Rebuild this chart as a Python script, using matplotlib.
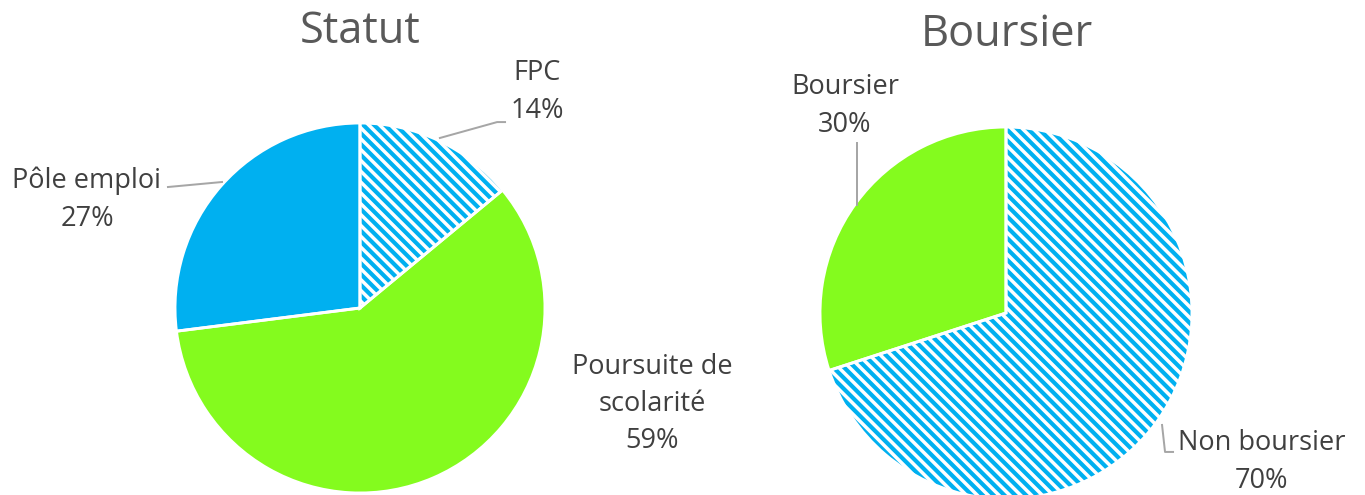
import matplotlib.pyplot as plt

plt.rcParams['font.family'] = ['Open Sans', 'DejaVu Sans']
plt.rcParams['hatch.linewidth'] = 2.3

# data
statut_labels = ['FPC', 'Poursuite de\nscolarité', 'Pôle emploi']
statut_values = [14, 59, 27]
boursier_labels = ['Non boursier', 'Boursier']
boursier_values = [70, 30]

blue = '#00B0F0'
green = '#84FB1E'
txt = '#404040'
grey = '#A6A6A6'

W, H, DPI = 1365, 495, 130
fig = plt.figure(figsize=(W / DPI, H / DPI), dpi=DPI)


def pie_axes(cx, cy, r):
    ax = fig.add_axes([(cx - r) / W, (H - cy - r) / H, 2 * r / W, 2 * r / H])
    return ax


def draw_pie(ax, values, colors, hatched):
    wedges, _ = ax.pie(values, colors=colors, startangle=90, counterclock=False,
                       radius=1, wedgeprops=dict(linewidth=0))
    for w, h in zip(wedges, hatched):
        if h:
            w.set_facecolor('white')
            w.set_edgecolor(blue)
            w.set_hatch('\\\\\\\\')
    # white separators on top
    ax.pie(values, colors=['none'] * len(values), startangle=90, counterclock=False,
           radius=1, wedgeprops=dict(linewidth=1.6, edgecolor='white', fill=False))
    ax.set_xlim(-1, 1)
    ax.set_ylim(-1, 1)
    ax.set_aspect('equal', adjustable='datalim')
    ax.axis('off')


fs = 15
ls = 1.45

# left pie
ax1 = pie_axes(360, 308, 185)
draw_pie(ax1, statut_values, [blue, green, blue], [True, False, False])
ax1.text(0.957, 1.168, f'{statut_labels[0]}\n{statut_values[0]}%', ha='center', va='center',
         fontsize=fs, color=txt, linespacing=ls)
ax1.plot([0.432, 0.741, 0.784], [0.919, 1.005, 1.005], color=grey, lw=1.1, clip_on=False)
ax1.text(1.578, -0.519, f'{statut_labels[1]}\n{statut_values[1]}%', ha='center', va='center',
         fontsize=fs, color=txt, linespacing=ls)
ax1.text(-1.476, 0.584, f'{statut_labels[2]}\n{statut_values[2]}%', ha='center', va='center',
         fontsize=fs, color=txt, linespacing=ls)
ax1.plot([-1.038, -0.746], [0.654, 0.681], color=grey, lw=1.1, clip_on=False)

# right pie
ax2 = pie_axes(1006, 313, 186)
draw_pie(ax2, boursier_values, [blue, green], [True, False])
ax2.text(1.376, -0.801, f'{boursier_labels[0]}\n{boursier_values[0]}%', ha='center', va='center',
         fontsize=fs, color=txt, linespacing=ls)
ax2.plot([0.839, 0.855, 0.898], [-0.602, -0.747, -0.747], color=grey, lw=1.1, clip_on=False)
ax2.text(-0.866, 1.113, f'{boursier_labels[1]}\n{boursier_values[1]}%', ha='center', va='center',
         fontsize=fs, color=txt, linespacing=ls)
ax2.plot([-0.801, -0.801], [0.914, 0.581], color=grey, lw=1.1, clip_on=False)

fig.text(360 / W, 1 - 32 / H, 'Statut', ha='center', va='center', fontsize=24, color='#595959')
fig.text(1007 / W, 1 - 35 / H, 'Boursier', ha='center', va='center', fontsize=24, color='#595959')

fig.savefig('out.png', dpi=DPI)
